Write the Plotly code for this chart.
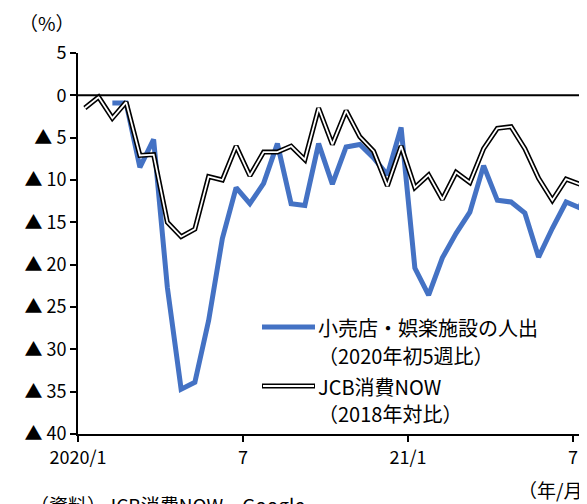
"""Retail/recreation mobility vs JCB consumption NOW, semi-monthly, 2020/1-."""
import plotly.graph_objects as go

# ── data (half-month steps from 2020/1 first half) ──
mobility = [None, None, -0.9, -0.9, -8.5, -5.2, -22.7, -34.7, -33.9, -26.6,
            -16.9, -10.9, -12.8, -10.4, -5.7, -12.8, -13.0, -5.7, -10.5, -6.1,
            -5.8, -7.4, -9.4, -3.8, -20.4, -23.6, -19.2, -16.3, -13.8, -8.3,
            -12.4, -12.6, -13.9, -19.1, -15.7, -12.6, -13.3, -8.0]
jcb = [-1.5, -0.2, -2.7, -0.8, -7.1, -7.0, -15.0, -16.7, -15.8, -9.6,
       -10.0, -6.0, -9.5, -6.7, -6.7, -6.0, -7.6, -1.5, -5.8, -1.8,
       -4.9, -6.6, -10.7, -6.0, -10.9, -9.4, -12.3, -9.1, -10.3, -6.3,
       -3.9, -3.7, -6.3, -9.8, -12.4, -9.9, -10.5]
x_mob = [i + 0.5 for i in range(len(mobility))]
x_jcb = [i + 0.5 for i in range(len(jcb))]

x_tickvals = [0, 12, 24, 36]
x_ticktext = ['2020/1', '7', '21/1', '7']
y_tickvals = [5, 0, -5, -10, -15, -20, -25, -30, -35, -40]
y_ticktext = ['5', '0', '▲ 5', '▲ 10', '▲ 15', '▲ 20', '▲ 25', '▲ 30', '▲ 35', '▲ 40']

FONT = 'Noto Sans CJK JP'
BLUE = '#4472C4'

fig = go.Figure()
fig.add_trace(go.Scatter(x=x_mob, y=mobility, mode='lines',
                         line=dict(color=BLUE, width=5), showlegend=False))
# double line: black outer, white inner
fig.add_trace(go.Scatter(x=x_jcb, y=jcb, mode='lines',
                         line=dict(color='black', width=5), showlegend=False))
fig.add_trace(go.Scatter(x=x_jcb, y=jcb, mode='lines',
                         line=dict(color='white', width=1.8), showlegend=False))

# zero line
fig.add_hline(y=0, line=dict(color='black', width=2))

# ── hand-made legend ──
def px_x(p):
    return (p - 78) / 509

def px_y(p):
    return (434 - p) / 381

fig.add_shape(type='line', xref='paper', yref='paper',
              x0=px_x(262), x1=px_x(315), y0=px_y(327), y1=px_y(327),
              line=dict(color=BLUE, width=5))
fig.add_shape(type='line', xref='paper', yref='paper',
              x0=px_x(262), x1=px_x(315), y0=px_y(386), y1=px_y(386),
              line=dict(color='black', width=5))
fig.add_shape(type='line', xref='paper', yref='paper',
              x0=px_x(263), x1=px_x(314), y0=px_y(386), y1=px_y(386),
              line=dict(color='white', width=1.8))

labels = [('小売店・娯楽施設の人出', 327), ('（2020年初5週比）', 355),
          ('JCB消費NOW', 386), ('（2018年対比）', 413)]
for txt, py in labels:
    fig.add_annotation(x=px_x(316), y=px_y(py), xref='paper', yref='paper',
                       text=txt, showarrow=False, xanchor='left', yanchor='middle',
                       font=dict(family=FONT, size=20, color='black'))

fig.add_annotation(x=px_x(47), y=px_y(22), xref='paper', yref='paper',
                   text='（%）', showarrow=False, xanchor='center', yanchor='middle',
                   font=dict(family=FONT, size=19, color='black'))
fig.add_annotation(x=px_x(516), y=px_y(489), xref='paper', yref='paper',
                   text='（年/月）', showarrow=False, xanchor='left', yanchor='middle',
                   font=dict(family=FONT, size=19, color='black'))
fig.add_annotation(x=px_x(28), y=px_y(489), xref='paper', yref='paper',
                   text='（資料）JCB消費NOW、Google', showarrow=False,
                   xanchor='left', yanchor='top',
                   font=dict(family=FONT, size=19, color='black'))

fig.update_xaxes(range=[0, 37.02], tickvals=x_tickvals, ticktext=x_ticktext,
                 showline=True, linecolor='black', linewidth=2,
                 ticks='outside', ticklen=6, tickwidth=2, tickcolor='black',
                 showgrid=False, zeroline=False, automargin=False,
                 tickfont=dict(family=FONT, size=18, color='black'))
fig.update_yaxes(range=[-40, 5], tickvals=y_tickvals, ticktext=y_ticktext,
                 showline=True, linecolor='black', linewidth=2,
                 ticks='outside', ticklen=6, tickwidth=2, tickcolor='black',
                 showgrid=False, zeroline=False, automargin=False,
                 tickfont=dict(family=FONT, size=18, color='black'))

# page body has an 8px margin, so the figure is offset; compensate here
fig.update_layout(width=587, height=504,
                  margin=dict(l=70, r=8, t=45, b=78),
                  plot_bgcolor='white', paper_bgcolor='white',
                  showlegend=False)

fig.write_html('out.html')
